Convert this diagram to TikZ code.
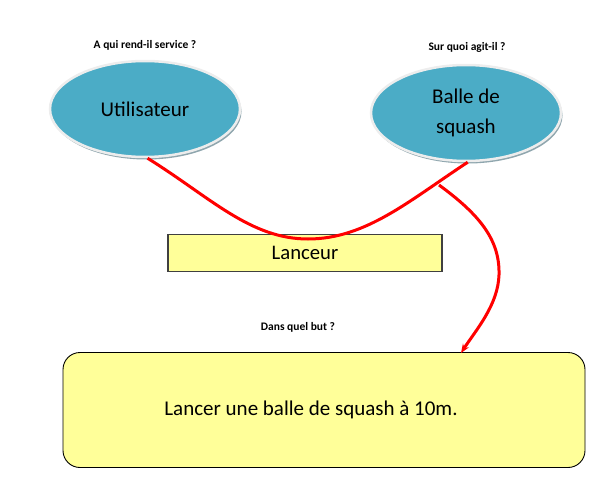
\documentclass[tikz,border=0pt]{standalone}
\usepackage{fontspec}
\setmainfont{Carlito}
\usetikzlibrary{shapes.geometric,shadows,arrows.meta}
\definecolor{ellfill}{HTML}{4BACC6}
\definecolor{ellrim}{HTML}{EDEDED}
\definecolor{ellshadow}{HTML}{8FA6AE}
\definecolor{boxfill}{HTML}{FFFF99}
\definecolor{boxline}{HTML}{404040}
\definecolor{linkred}{HTML}{FF0000}
\begin{document}
\begin{tikzpicture}[x=1pt,y=-1pt,
  actor/.style={ellipse, fill=ellfill, draw=ellrim, line width=2.5pt,
    minimum width=190pt, minimum height=96pt, inner sep=0pt,
    font=\fontsize{21}{30}\selectfont, align=center,
    general shadow={fill=ellshadow, shadow xshift=1.5pt, shadow yshift=-2.5pt}},
  question/.style={font=\bfseries\fontsize{11.5}{13}\selectfont},
  funcbox/.style={rectangle, fill=boxfill, draw=boxline, line width=1.2pt,
    minimum width=274pt, minimum height=37pt, inner sep=0pt,
    font=\fontsize{20.7}{25}\selectfont},
  goalbox/.style={rectangle, rounded corners=17pt, fill=boxfill, draw=black, line width=0.9pt,
    minimum width=522pt, minimum height=115pt, inner sep=0pt,
    font=\fontsize{21}{25}\selectfont},
  link/.style={draw=linkred, line width=3pt},
]
\useasboundingbox (0,0) rectangle (603,479);

\node[question] (q1) at (145,45) {A qui rend-il service ?};
\node[question] (q2) at (467,47) {Sur quoi agit-il ?};
\node[question] (q3) at (298,327) {Dans quel but ?};

\node[actor] (user) at (145,109) {Utilisateur};
\node[actor] (ball) at (466,113) {Balle de\\squash};

\node[funcbox] (lanceur) at (305,253) {Lanceur};
\node[goalbox] (goal) at (324,410) {\hspace*{-26pt}Lancer une balle de squash à 10m.};

\coordinate (low) at (308,239);
\coordinate (fork) at (439,185);
\coordinate (tip) at (461,353);

\draw[link] (user.-87) .. controls (210,197) and (250,239) .. (low)
  .. controls (366,239) and (410,200) .. (ball.-88);
\draw[link, -{Stealth[length=9pt,width=7pt]}] (fork) .. controls (480,215) and (500,240) .. (499,275)
  .. controls (498,305) and (476,330) .. (tip);
\end{tikzpicture}
\end{document}
